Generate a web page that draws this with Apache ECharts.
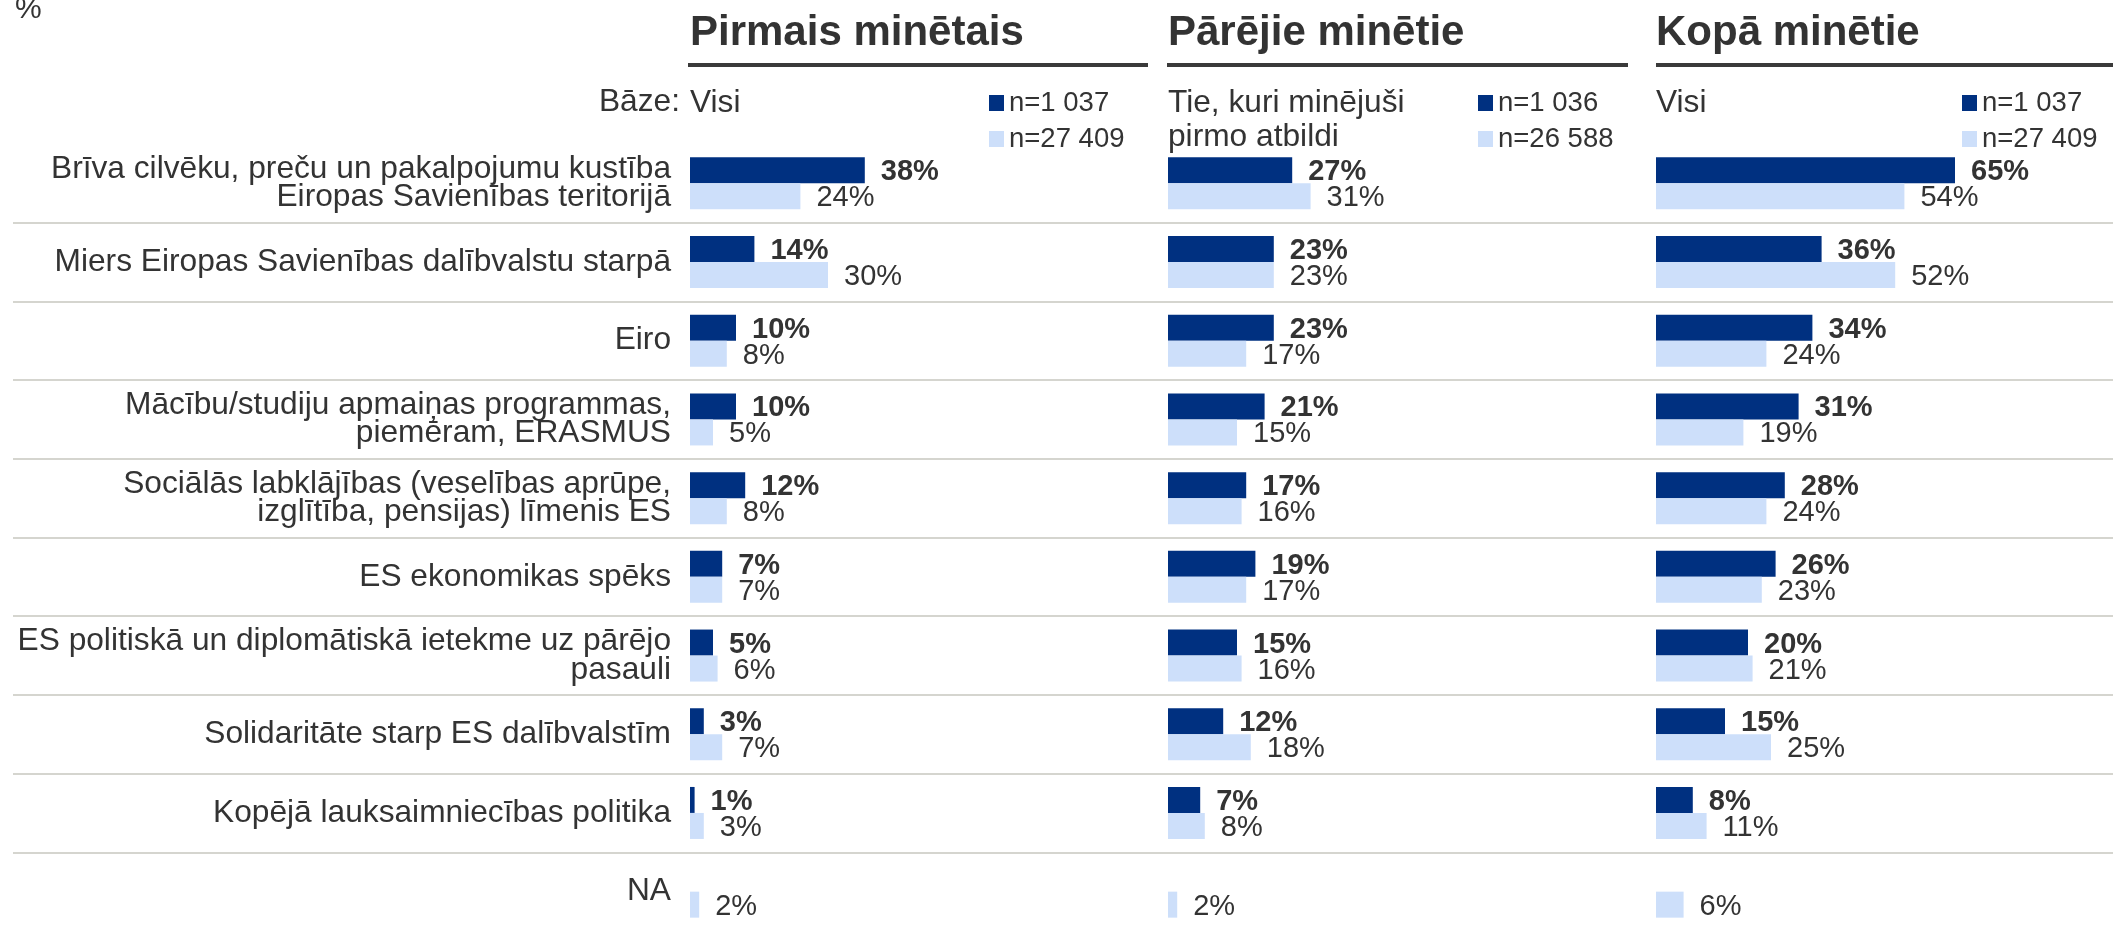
<!DOCTYPE html>
<html>
<head>
    <meta charset="utf-8">
    <title>ES sasniegumi</title>
    <script src="https://cdn.jsdelivr.net/npm/echarts@6/dist/echarts.min.js"></script>
    <style>
        html, body { margin: 0; padding: 0; background: #fff; }
        #chart { width: 2113px; height: 927px; }
    </style>
</head>
<body>
<div id="chart"></div>
<script>
    // kategorijas (no augšas uz leju)
    var categories = [
        'Brīva cilvēku, preču un pakalpojumu kustība\nEiropas Savienības teritorijā',
        'Miers Eiropas Savienības dalībvalstu starpā',
        'Eiro',
        'Mācību/studiju apmaiņas programmas,\npiemēram, ERASMUS',
        'Sociālās labklājības (veselības aprūpe,\nizglītība, pensijas) līmenis ES',
        'ES ekonomikas spēks',
        'ES politiskā un diplomātiskā ietekme uz pārējo\npasauli',
        'Solidaritāte starp ES dalībvalstīm',
        'Kopējā lauksaimniecības politika',
        'NA'
    ];

    // Pirmais minētais
    var firstLv = [38, 14, 10, 10, 12, 7, 5, 3, 1, null];
    var firstEu = [24, 30, 8, 5, 8, 7, 6, 7, 3, 2];
    // Pārējie minētie
    var otherLv = [27, 23, 23, 21, 17, 19, 15, 12, 7, null];
    var otherEu = [31, 23, 17, 15, 16, 17, 16, 18, 8, 2];
    // Kopā minētie
    var totalLv = [65, 36, 34, 31, 28, 26, 20, 15, 8, null];
    var totalEu = [54, 52, 24, 19, 24, 23, 21, 25, 11, 6];

    var panelTitles = ['Pirmais minētais', 'Pārējie minētie', 'Kopā minētie'];
    var baseTexts = ['Visi', 'Tie, kuri minējuši\npirmo atbildi', 'Visi'];
    var legendNames = [['n=1 037', 'n=27 409'], ['n=1 036', 'n=26 588'], ['n=1 037', 'n=27 409']];
    var panelData = [[firstLv, firstEu], [otherLv, otherEu], [totalLv, totalEu]];

    var FONT = '"Liberation Sans", Arial, sans-serif';
    var TEXT = '#333333';
    var DARK = '#003080';
    var LIGHT = '#cddffa';

    var panelLeft = [690, 1168, 1656];
    var lineFrom = [688, 1167, 1656];
    var lineTo = [1148, 1628, 2113];
    var legendLeft = [989, 1478, 1962];

    var chart = echarts.init(document.getElementById('chart'));

    var grids = [{left: 13, right: 0, top: 144, height: 787, outerBoundsMode: 'none'}];
    var xAxes = [{gridIndex: 0, type: 'value', min: 0, max: 1, show: false}];
    var yAxes = [{
        gridIndex: 0, type: 'category', data: categories, inverse: true,
        axisLine: {show: false}, axisTick: {show: false}, axisLabel: {show: false},
        splitLine: {
            show: true,
            interval: function (index) { return index > 0 && index < categories.length; },
            lineStyle: {color: '#d5d5cf', width: 2}
        }
    }];
    var series = [];
    var legends = [];
    var graphics = [{
        type: 'text', left: 15, top: -5,
        style: {text: '%', font: '30px ' + FONT, fill: TEXT}
    }, {
        type: 'text', right: 2113 - 680, top: 86,
        style: {text: 'Bāze:', font: '31.7px ' + FONT, fill: TEXT, align: 'right'}
    }];

    for (var p = 0; p < 3; p++) {
        var g = p + 1;
        grids.push({left: panelLeft[p], width: 460, top: 144, height: 787, outerBoundsMode: 'none'});
        xAxes.push({gridIndex: g, type: 'value', min: 0, max: 100, show: false});
        yAxes.push({
            gridIndex: g, type: 'category', data: categories, inverse: true,
            axisLine: {show: false}, axisTick: {show: false}, splitLine: {show: false},
            axisLabel: {
                show: p === 0, margin: 19, fontSize: 31.7, lineHeight: 28.5,
                color: TEXT, fontFamily: FONT, align: 'right'
            }
        });
        series.push({
            name: legendNames[p][0], type: 'bar', xAxisIndex: g, yAxisIndex: g,
            data: panelData[p][0], barWidth: 26, barGap: '0%',
            itemStyle: {color: DARK},
            label: {
                show: true, position: 'right', distance: 16, offset: [0, 2], formatter: '{c}%',
                fontSize: 29, fontWeight: 'bold', color: TEXT, fontFamily: FONT
            }
        });
        series.push({
            name: legendNames[p][1], type: 'bar', xAxisIndex: g, yAxisIndex: g,
            data: panelData[p][1], barWidth: 26, barGap: '0%',
            itemStyle: {color: LIGHT},
            label: {
                show: true, position: 'right', distance: 16, offset: [0, 2], formatter: '{c}%',
                fontSize: 29, color: TEXT, fontFamily: FONT
            }
        });
        legends.push({
            data: legendNames[p], orient: 'vertical', left: legendLeft[p], top: 89,
            padding: 0, itemGap: 8, itemWidth: 15, itemHeight: 16, icon: 'rect',
            selectedMode: false,
            textStyle: {fontSize: 27.5, color: TEXT, fontFamily: FONT}
        });
        graphics.push({
            type: 'text', left: panelLeft[p], top: 12,
            style: {text: panelTitles[p], font: 'bold 42px ' + FONT, fill: TEXT}
        });
        graphics.push({
            type: 'line',
            shape: {x1: lineFrom[p], y1: 65, x2: lineTo[p], y2: 65},
            style: {stroke: '#3a3a3a', lineWidth: 4}
        });
        graphics.push({
            type: 'text', left: panelLeft[p], top: 86,
            style: {text: baseTexts[p], font: '31.7px ' + FONT, fill: TEXT, lineHeight: 34}
        });
    }

    chart.setOption({
        animation: false,
        textStyle: {fontFamily: FONT},
        grid: grids,
        xAxis: xAxes,
        yAxis: yAxes,
        legend: legends,
        graphic: graphics,
        series: series
    });

    window.onresize = function () {
        chart.resize();
    };
</script>
</body>
</html>
